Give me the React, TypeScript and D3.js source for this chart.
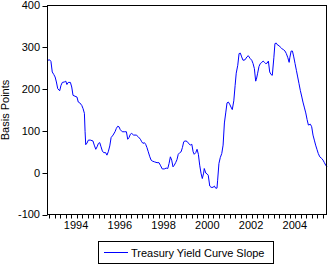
import React from "react";
import * as d3 from "d3";

// decimal-year dates and values (basis points)
const dates: number[] = [
  1992.75, 1992.84, 1992.90, 1992.96, 1993.03, 1993.09, 1993.15, 1993.21, 1993.30, 1993.36,
  1993.42, 1993.51, 1993.58, 1993.63, 1993.69, 1993.79, 1993.85, 1993.91, 1994.00, 1994.09,
  1994.15, 1994.22, 1994.31, 1994.37, 1994.43, 1994.46, 1994.49, 1994.55, 1994.61, 1994.70,
  1994.82, 1994.88, 1994.95, 1995.01, 1995.07, 1995.13, 1995.19, 1995.25, 1995.31, 1995.40,
  1995.46, 1995.52, 1995.59, 1995.65, 1995.74, 1995.83, 1995.89, 1995.95, 1996.01, 1996.07,
  1996.16, 1996.25, 1996.35, 1996.41, 1996.47, 1996.53, 1996.59, 1996.68, 1996.80, 1996.89,
  1996.99, 1997.05, 1997.11, 1997.17, 1997.23, 1997.29, 1997.35, 1997.42, 1997.48, 1997.53,
  1997.63, 1997.75, 1997.84, 1997.90, 1997.99, 1998.08, 1998.17, 1998.24, 1998.30, 1998.36,
  1998.42, 1998.48, 1998.54, 1998.60, 1998.66, 1998.72, 1998.79, 1998.85, 1998.91, 1998.97,
  1999.03, 1999.12, 1999.18, 1999.27, 1999.34, 1999.40, 1999.45, 1999.52, 1999.58, 1999.64,
  1999.70, 1999.76, 1999.82, 1999.88, 1999.91, 1999.98, 2000.04, 2000.09, 2000.16, 2000.22,
  2000.31, 2000.37, 2000.43, 2000.49, 2000.52, 2000.58, 2000.64, 2000.71, 2000.77, 2000.83,
  2000.89, 2000.95, 2001.01, 2001.07, 2001.13, 2001.19, 2001.26, 2001.32, 2001.37, 2001.44,
  2001.50, 2001.56, 2001.62, 2001.68, 2001.77, 2001.86, 2001.92, 2002.01, 2002.08, 2002.14,
  2002.20, 2002.26, 2002.29, 2002.35, 2002.41, 2002.47, 2002.54, 2002.60, 2002.66, 2002.72,
  2002.78, 2002.84, 2002.90, 2002.96, 2003.02, 2003.09, 2003.14, 2003.20, 2003.27, 2003.33,
  2003.39, 2003.45, 2003.54, 2003.60, 2003.66, 2003.73, 2003.79, 2003.82, 2003.88, 2003.94,
  2004.00, 2004.06, 2004.12, 2004.18, 2004.24, 2004.30, 2004.37, 2004.42, 2004.48, 2004.55,
  2004.61, 2004.67, 2004.76, 2004.82, 2004.88, 2004.94, 2005.00, 2005.06, 2005.12, 2005.19,
  2005.28, 2005.34, 2005.40, 2005.46, 2005.52,
];

const slope: number[] = [
  269, 270, 266, 241, 235, 229, 217, 201, 196, 209,
  216, 217, 219, 211, 216, 216, 205, 185, 183, 181,
  169, 167, 161, 153, 142, 99, 67, 71, 78, 78,
  76, 66, 56, 62, 70, 72, 62, 52, 48, 48,
  42, 50, 64, 84, 90, 98, 106, 111, 110, 103,
  98, 98, 98, 80, 84, 92, 94, 90, 90, 86,
  80, 74, 70, 72, 68, 60, 50, 38, 30, 28,
  26, 24, 24, 18, 9, 9, 11, 10, 22, 38,
  30, 14, 18, 24, 31, 44, 48, 50, 60, 74,
  76, 75, 71, 66, 68, 50, 44, 48, 56, 44,
  18, -1, -14, -1, 10, -1, -3, -6, -32, -35,
  -35, -32, -37, -37, -18, 22, 36, 46, 66, 119,
  143, 167, 169, 164, 157, 151, 172, 209, 238, 257,
  285, 286, 277, 269, 270, 277, 280, 273, 269, 261,
  249, 219, 223, 238, 254, 261, 264, 267, 264, 261,
  262, 267, 241, 235, 233, 275, 309, 310, 305, 304,
  300, 297, 294, 291, 285, 275, 264, 275, 291, 291,
  277, 261, 245, 229, 213, 197, 181, 169, 157, 143,
  127, 114, 116, 110, 90, 78, 66, 56, 46, 38,
  34, 30, 24, 18, 14,
];

const yTicks: number[] = [-100, 0, 100, 200, 300, 400];
const xLabels: number[] = [1994, 1996, 1998, 2000, 2002, 2004];
const seriesName = "Treasury Yield Curve Slope";
const yTitle = "Basis Points";

const W = 328;
const H = 265;
const left = 47.5;
const right = 326.5;
const top = 5.5;
const bottom = 214.5;
const font = "'Liberation Sans', Arial, sans-serif";

export default function App() {
  const x = d3.scaleLinear().domain([1992.72, 2005.52]).range([left - 0.5, right + 0.5]);
  const y = d3.scaleLinear().domain([-100, 400]).range([bottom, top]);
  const data = dates.map((d, i) => [d, slope[i]] as [number, number]);
  const line = d3
    .line<[number, number]>()
    .x((d) => x(d[0]))
    .y((d) => y(d[1]));

  const quarterTicks = d3.range(1992.83, 2005.5, 0.25);

  return (
    <svg
      width={W}
      height={H}
      style={{ position: "absolute", left: 0, top: 0, background: "#fff" }}
      fontFamily={font}
    >
      <rect x={0} y={0} width={W} height={H} fill="#fff" />
      {/* y ticks and labels */}
      {yTicks.map((t) => (
        <g key={t}>
          <line x1={left - 5} x2={left} y1={Math.round(y(t)) + 0.5} y2={Math.round(y(t)) + 0.5} stroke="#000" />
          <text x={40} y={y(t)} dy="0.36em" textAnchor="end" fontSize={11} fill="#000">
            {t}
          </text>
        </g>
      ))}
      {/* x ticks */}
      {quarterTicks.map((t, i) => (
        <line
          key={i}
          x1={Math.round(x(t)) + 0.5}
          x2={Math.round(x(t)) + 0.5}
          y1={bottom}
          y2={bottom + 4}
          stroke="#000"
        />
      ))}
      {xLabels.map((t) => (
        <text key={t} x={x(t + 0.05)} y={229} textAnchor="middle" fontSize={11} fill="#000">
          {t}
        </text>
      ))}
      <text
        transform={`translate(8.5,${(top + bottom) / 2}) rotate(-90)`}
        textAnchor="middle"
        fontSize={11}
        fill="#000"
      >
        {yTitle}
      </text>
      {/* series line */}
      <path d={line(data) || ""} fill="none" stroke="#0000ff" strokeWidth={1} />
      {/* frame */}
      <rect x={left} y={top} width={right - left} height={bottom - top} fill="none" stroke="#000" />
      {/* legend */}
      <rect x={98.5} y={241.5} width={175} height={22} fill="#fff" stroke="#000" />
      <line x1={104} x2={128} y1={252.5} y2={252.5} stroke="#0000ff" />
      <text x={131} y={256.5} fontSize={11} fill="#000">
        {seriesName}
      </text>
    </svg>
  );
}
